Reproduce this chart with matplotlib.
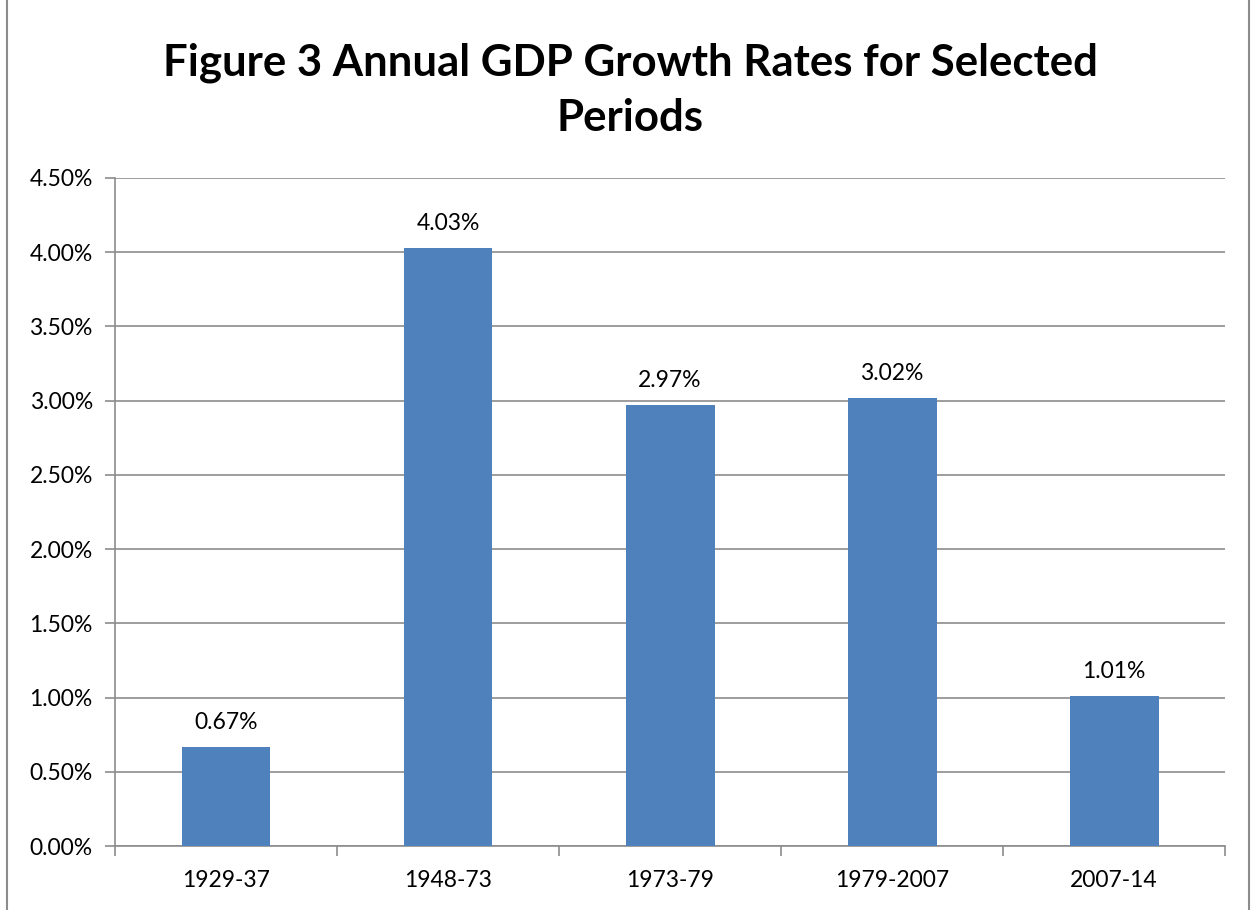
import matplotlib.pyplot as plt
from matplotlib.patches import Rectangle
from matplotlib.ticker import FuncFormatter, MultipleLocator

# data
periods = ['1929-37', '1948-73', '1973-79', '1979-2007', '2007-14']
growth = [0.67, 4.03, 2.97, 3.02, 1.01]  # percent per year

plt.rcParams['font.family'] = ['Lato', 'DejaVu Sans']

fig = plt.figure(figsize=(12.53, 9.10), dpi=100)
ax = fig.add_axes([0.0918, 0.0703, 0.886, 0.7341])

bars = ax.bar(range(len(periods)), growth, width=0.4, color='#4F81BD', zorder=3)

# value labels above the bars
for rect, val in zip(bars, growth):
    ax.annotate('%.2f%%' % val, (rect.get_x() + rect.get_width() / 2, val),
                xytext=(0, 10), textcoords='offset points',
                ha='center', va='bottom', fontsize=16.5)

ax.set_xlim(-0.5, len(periods) - 0.5)
ax.set_ylim(0, 4.5)
ax.yaxis.set_major_locator(MultipleLocator(0.5))
ax.yaxis.set_major_formatter(FuncFormatter(lambda v, p: '%.2f%%' % v))
ax.yaxis.grid(True, color='#8c8c8c', linewidth=1.2, zorder=0)

# category labels at centres, tick marks at category boundaries
ax.set_xticks(range(len(periods)))
ax.set_xticklabels(periods)
ax.set_xticks([i - 0.5 for i in range(len(periods) + 1)], minor=True)
ax.tick_params(axis='x', which='major', length=0, labelsize=16.5, pad=17)
ax.tick_params(axis='x', which='minor', length=7, width=1.2, color='#8c8c8c',
               direction='out')
ax.tick_params(axis='y', length=7, width=1.2, color='#8c8c8c', labelsize=16.5,
               pad=9)

for side in ['top', 'right']:
    ax.spines[side].set_visible(False)
for side in ['left', 'bottom']:
    ax.spines[side].set_color('#8c8c8c')
    ax.spines[side].set_linewidth(1.2)

fig.text(0.503, 0.901, 'Figure 3 Annual GDP Growth Rates for Selected\nPeriods',
         ha='center', va='center', fontsize=31.5, fontweight='bold',
         linespacing=1.45)

# chart area border
fig.patches.append(Rectangle((0.0055, -0.01), 0.9915, 1.2, transform=fig.transFigure,
                             fill=False, edgecolor='#8c8c8c', linewidth=1.5))

plt.savefig('out.png', dpi=100)
